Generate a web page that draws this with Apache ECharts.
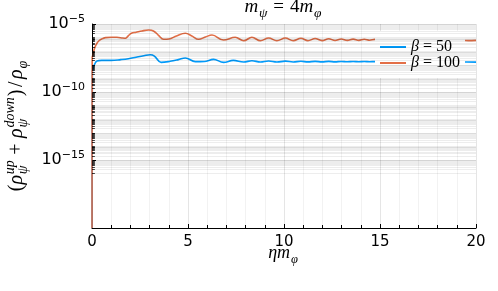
<!DOCTYPE html>
<html>
<head>
<meta charset="utf-8">
<script src="https://cdn.jsdelivr.net/npm/echarts@6/dist/echarts.min.js"></script>
<style>html,body{margin:0;padding:0;background:#fff;}#c{width:498px;height:291px;}</style>
</head>
<body>
<div id="c"></div>
<script>
// ---- data ----
const seriesNames = ['β = 50', 'β = 100'];
const etaBlue = [0, 0.02, 0.06, 0.12, 0.26, 0.5, 1.0, 1.5, 1.9, 2.3, 2.7, 3.03, 3.25, 3.6, 4.07, 4.5, 4.86, 5.38, 5.85, 6.33, 6.85, 7.36, 7.9, 8.33, 8.77, 9.2, 9.63, 10.07, 10.48, 10.88, 11.25, 11.62, 11.98, 12.33, 12.66, 12.98, 13.3, 13.6, 13.9, 14.18, 14.46, 14.73, 15.0, 16, 17, 18, 19.3, 20];
const valBlue = [1e-20, 2.9e-9, 5.4e-9, 9.8e-9, 1.9e-8, 2.1e-8, 2.1e-8, 2.4e-8, 2.8e-8, 3.6e-8, 4.6e-8, 5.5e-8, 4.4e-8, 1.5e-8, 1.8e-8, 2.4e-8, 3.2e-8, 1.7e-8, 1.75e-8, 2.5e-8, 1.5e-8, 2.1e-8, 1.6e-8, 2.0e-8, 1.6e-8, 1.9e-8, 1.6e-8, 1.85e-8, 1.62e-8, 1.82e-8, 1.63e-8, 1.8e-8, 1.64e-8, 1.78e-8, 1.65e-8, 1.76e-8, 1.66e-8, 1.74e-8, 1.67e-8, 1.73e-8, 1.68e-8, 1.72e-8, 1.69e-8, 1.7e-8, 1.68e-8, 1.66e-8, 1.6e-8, 1.56e-8];
const etaOrange = [0, 0.01, 0.04, 0.08, 0.15, 0.25, 0.35, 0.5, 0.7, 1.0, 1.3, 1.6, 1.75, 1.9, 2.05, 2.3, 2.6, 2.95, 3.2, 3.45, 3.73, 4.0, 4.4, 4.86, 5.2, 5.55, 5.9, 6.25, 6.85, 7.46, 7.9, 8.33, 8.77, 9.2, 9.63, 10.07, 10.48, 10.88, 11.25, 11.62, 11.98, 12.33, 12.66, 12.98, 13.3, 13.6, 13.9, 14.18, 14.46, 14.73, 15.0, 15.27, 16, 17, 18, 19.3, 19.6, 20];
const valOrange = [1e-20, 3.2e-8, 5.2e-8, 8.7e-8, 1.9e-7, 3.7e-7, 5.6e-7, 7.9e-7, 1.0e-6, 1.05e-6, 1.05e-6, 9.3e-7, 9.0e-7, 1.42e-6, 2.1e-6, 2.5e-6, 3.1e-6, 3.6e-6, 3.1e-6, 1.55e-6, 7.5e-7, 7.9e-7, 1.32e-6, 2.1e-6, 1.32e-6, 7.5e-7, 1.1e-6, 1.55e-6, 6.6e-7, 1.05e-6, 5.9e-7, 1.05e-6, 5.9e-7, 9.3e-7, 5.9e-7, 9.3e-7, 5.9e-7, 8.9e-7, 5.9e-7, 8.5e-7, 6.0e-7, 8.2e-7, 6.1e-7, 7.9e-7, 6.2e-7, 7.7e-7, 6.3e-7, 7.5e-7, 6.4e-7, 7.4e-7, 6.4e-7, 7.3e-7, 6.8e-7, 6.7e-7, 6.6e-7, 6.3e-7, 6.0e-7, 6.2e-7];
const xTickLabels = ['0', '5', '10', '15', '20'];
const yTickExponents = [-5, -10, -15];

// ---- helpers ----
const colors = ['#009AFA', '#E36F47'];
const yMin = 1e-20, yMax = 1e-5;

// log minor grid lines / ticks at k*10^n
const gridVals = [];
for (let n = -16; n <= -6; n++) {
  for (let k = 1; k <= 9; k++) {
    if (k === 1 && yTickExponents.indexOf(n) >= 0) continue;
    gridVals.push(k * Math.pow(10, n));
  }
}

const ctx = document.createElement('canvas').getContext('2d');
const SERIF = '"Liberation Serif", "DejaVu Serif", serif';
function fontStr(s, it) { return (it ? 'italic ' : '') + s + 'px ' + SERIF; }
function meas(t, s, it) { ctx.font = fontStr(s, it); return ctx.measureText(t).width; }
function txt(t, x, baseline, s, it) {
  return { type: 'text', x: x, y: baseline - 0.33 * s,
    style: { text: t, font: fontStr(s, it), fill: '#000', verticalAlign: 'middle', align: 'left' } };
}
// parts: {t, it, sup, sub, gb, ga}
function mathGroup(parts, S, s, cx, cy, rot) {
  const kids = [];
  let x = 0;
  parts.forEach(p => {
    if (p.gb) x += p.gb;
    if (p.t) { kids.push(txt(p.t, x, 0, S, p.it)); x += meas(p.t, S, p.it); }
    let w = 0;
    if (p.sup) { kids.push(txt(p.sup, x + 0.8, -0.42 * S, s, true)); w = Math.max(w, meas(p.sup, s, true) + 0.8); }
    if (p.sub) { kids.push(txt(p.sub, x + 0.8, 0.25 * S, s, true)); w = Math.max(w, meas(p.sub, s, true) + 0.8); }
    x += w;
    if (p.ga) x += p.ga;
  });
  kids.forEach(k => { k.x -= x / 2; });
  return { type: 'group', x: cx, y: cy, rotation: rot || 0, children: kids, silent: true };
}

const titleG = mathGroup([
  { t: 'm', it: true, sub: 'ψ' },
  { t: '=', gb: 6, ga: 6 },
  { t: '4' },
  { t: 'm', it: true, sub: 'φ' }
], 19, 13.5, 283, 13.5);

const xNameG = mathGroup([
  { t: 'η', it: true },
  { t: 'm', it: true, sub: 'φ' }
], 18, 12.5, 283, 259);

const yNameG = mathGroup([
  { t: '(' },
  { t: 'ρ', it: true, sup: 'up', sub: 'ψ' },
  { t: '+', gb: 5.5, ga: 5.5 },
  { t: 'ρ', it: true, sup: 'down', sub: 'ψ' },
  { t: ')', gb: 1 },
  { t: '/', gb: 2.5, ga: 2.5 },
  { t: 'ρ', it: true, sub: 'φ' }
], 20, 14, 23, 126, Math.PI / 2);

function pairs(xs, ys) { return xs.map((x, i) => [x, ys[i]]); }

const chart = echarts.init(document.getElementById('c'), null, { renderer: 'canvas' });
chart.setOption({
  animation: false,
  backgroundColor: '#fff',
  grid: { left: 92, right: 22, top: 24, bottom: 63, containLabel: false },
  graphic: [titleG, xNameG, yNameG],
  legend: {
    orient: 'vertical', left: 375, top: 31,
    backgroundColor: '#fff', padding: [8, 5, 7, 4],
    itemWidth: 26, itemHeight: 14, itemGap: 0,
    itemStyle: { opacity: 0 },
    data: seriesNames,
    formatter: n => '{i|β}' + n.slice(1),
    textStyle: { fontFamily: SERIF, fontSize: 16, color: '#000', lineHeight: 16,
      rich: { i: { fontStyle: 'italic', fontFamily: SERIF, fontSize: 16, color: '#000', lineHeight: 16 } } }
  },
  xAxis: {
    type: 'value', min: 0, max: 20, interval: 5,
    axisLine: { show: true, onZero: false, lineStyle: { color: '#000', width: 1 } },
    axisTick: { show: true, inside: true, length: 4, lineStyle: { color: '#000' } },
    minorTick: { show: true, splitNumber: 5, length: 3, lineStyle: { color: '#000' } },
    splitLine: { show: true, lineStyle: { color: 'rgba(0,0,0,0.1)', width: 1 } },
    minorSplitLine: { show: true, lineStyle: { color: 'rgba(0,0,0,0.05)', width: 1 } },
    axisLabel: { color: '#000', fontFamily: 'DejaVu Sans', fontSize: 15, margin: 7,
      formatter: v => xTickLabels[xTickLabels.indexOf(String(v))] || '' }
  },
  yAxis: {
    type: 'log', logBase: 10, min: yMin, max: yMax, interval: 5,
    axisLine: { show: true, onZero: false, lineStyle: { color: '#000', width: 1 } },
    axisTick: { show: true, inside: true, length: 4, lineStyle: { color: '#000' } },
    splitLine: { show: true, lineStyle: { color: 'rgba(0,0,0,0.1)', width: 1 } },
    axisLabel: {
      margin: 7, color: '#000',
      formatter: v => {
        const e = Math.round(Math.log10(v));
        if (yTickExponents.indexOf(e) < 0) return '';
        return '{a|10}{b|−' + Math.abs(e) + '}';
      },
      rich: {
        a: { fontFamily: 'DejaVu Sans', fontSize: 16, color: '#000', lineHeight: 20 },
        b: { fontFamily: 'DejaVu Sans', fontSize: 11, color: '#000', verticalAlign: 'top', lineHeight: 12 }
      }
    }
  },
  series: [
    {
      name: seriesNames[0], type: 'line', symbol: 'none', smooth: 0.4,
      data: pairs(etaBlue, valBlue), clip: true,
      lineStyle: { color: colors[0], width: 1.6 }, itemStyle: { color: colors[0] },
      markLine: {
        silent: true, symbol: ['none', 'none'], animation: false,
        label: { show: false },
        lineStyle: { type: 'solid', color: 'rgba(0,0,0,0.07)', width: 1.2 },
        emphasis: { disabled: true },
        data: gridVals.map(v => [{ coord: [0, v] }, { coord: [20, v] }])
      },
      z: 2
    },
    {
      name: seriesNames[1], type: 'line', symbol: 'none', smooth: 0.4,
      data: pairs(etaOrange, valOrange), clip: true,
      lineStyle: { color: colors[1], width: 1.6 }, itemStyle: { color: colors[1] },
      markLine: {
        silent: true, symbol: ['none', 'none'], animation: false,
        label: { show: false },
        lineStyle: { type: 'solid', color: 'rgba(0,0,0,0.75)', width: 1 },
        emphasis: { disabled: true },
        data: gridVals.map(v => [{ coord: [0, v] }, { coord: [0.15, v] }])
      },
      z: 3
    }
  ]
});
</script>
</body>
</html>
